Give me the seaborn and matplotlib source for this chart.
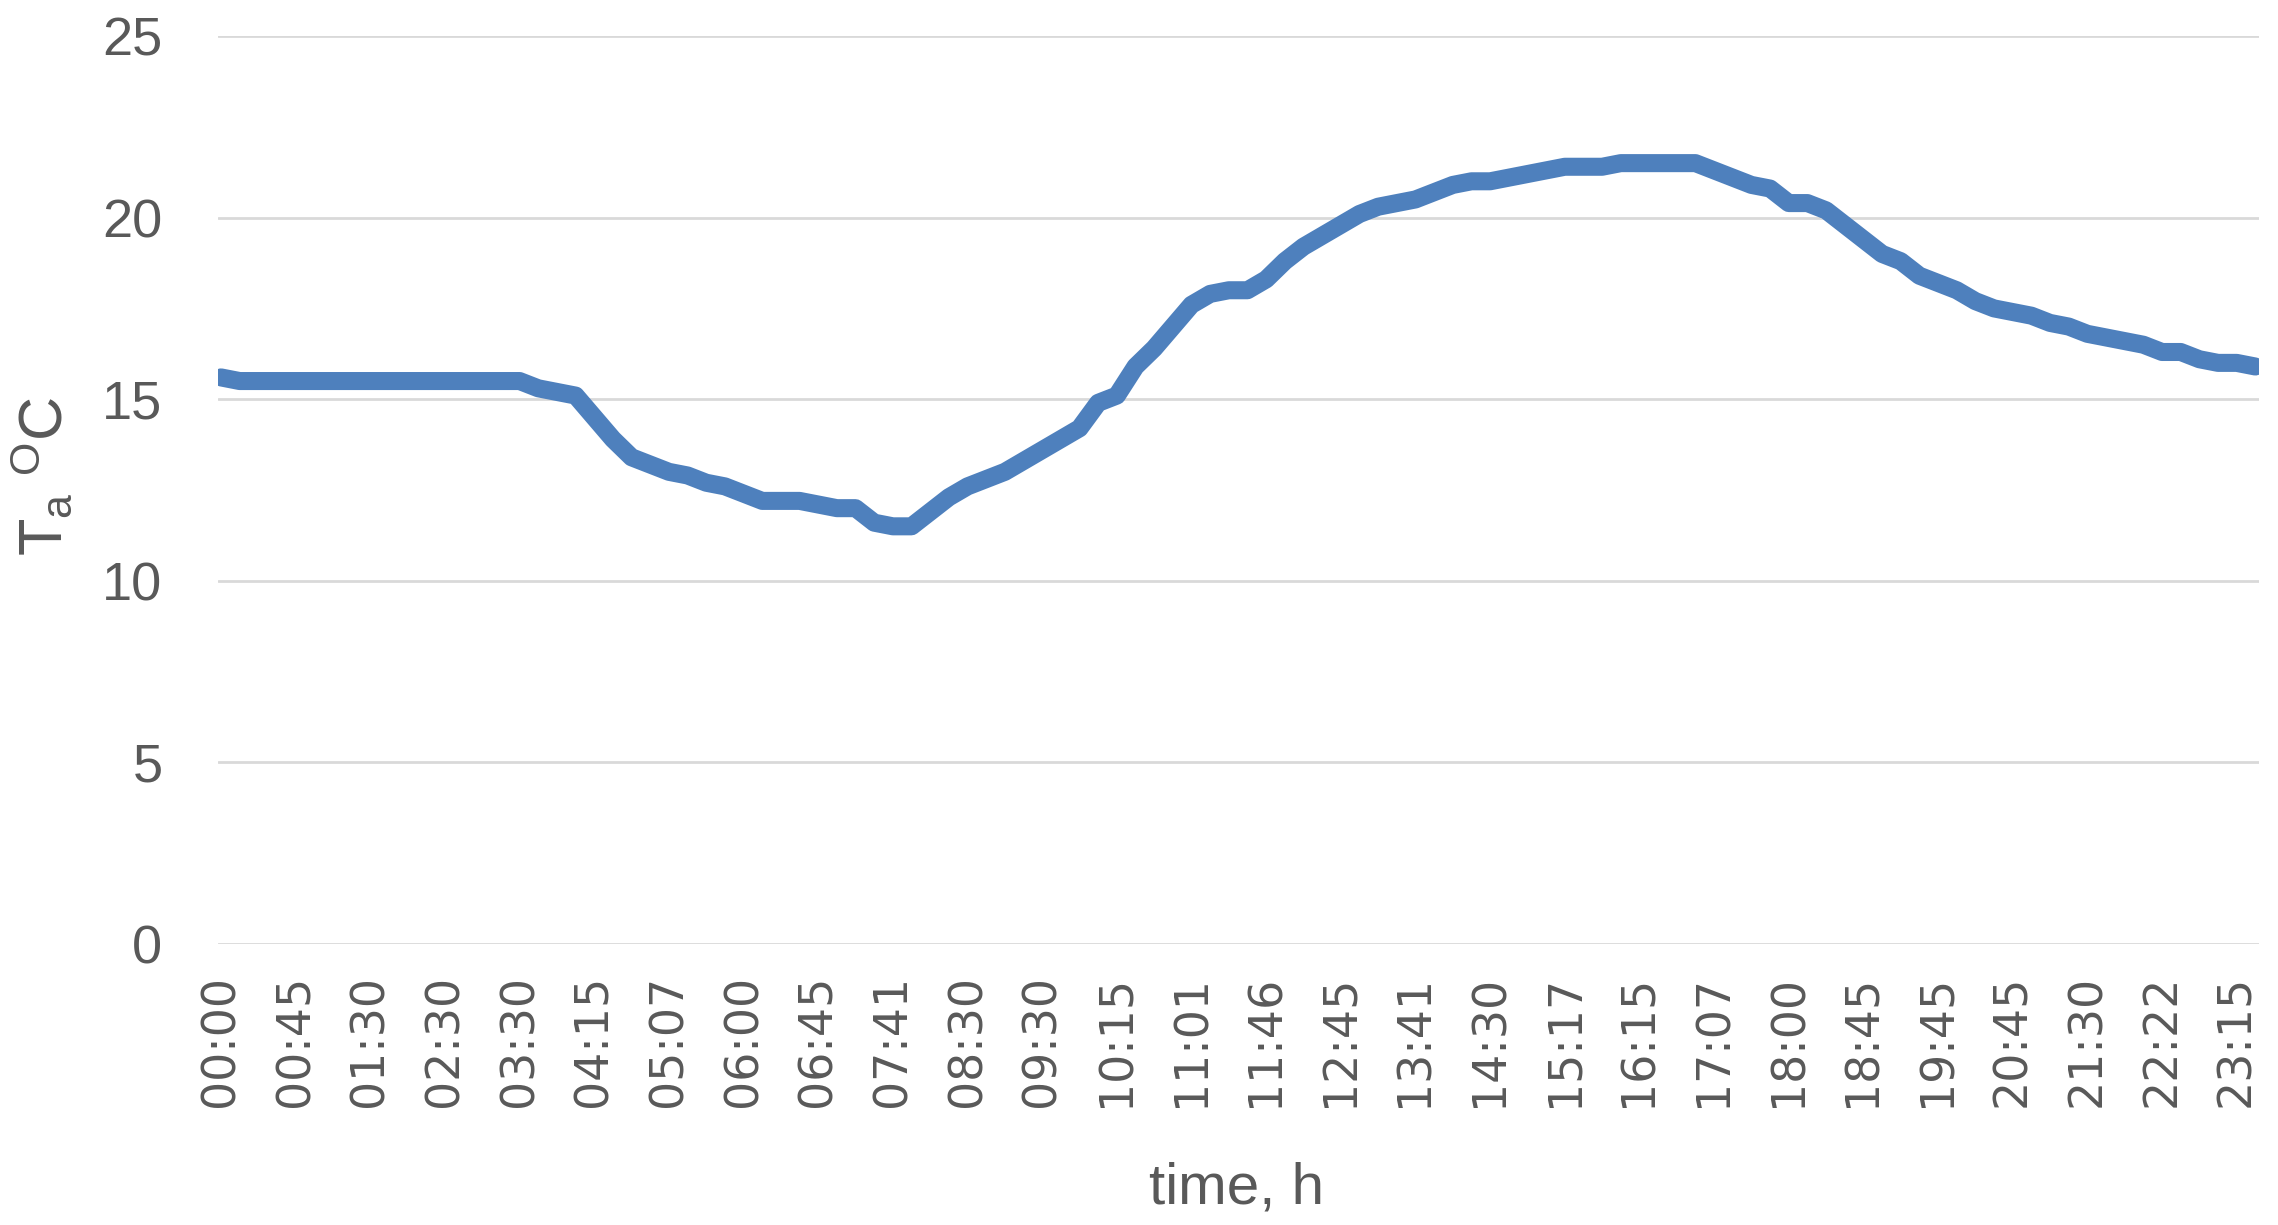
import matplotlib
matplotlib.use("Agg")
import matplotlib.pyplot as plt
import numpy as np
import pandas as pd
import seaborn as sns

# air temperature over the day (one value per sample)
temp_c = [15.6, 15.5, 15.5, 15.5, 15.5, 15.5, 15.5, 15.5, 15.5, 15.5,
          15.5, 15.5, 15.5, 15.5, 15.5, 15.5, 15.5, 15.3, 15.2, 15.1,
          14.5, 13.9, 13.4, 13.2, 13.0, 12.9, 12.7, 12.6, 12.4, 12.2,
          12.2, 12.2, 12.1, 12.0, 12.0, 11.6, 11.5, 11.5, 11.9, 12.3,
          12.6, 12.8, 13.0, 13.3, 13.6, 13.9, 14.2, 14.9, 15.1, 15.9,
          16.4, 17.0, 17.6, 17.9, 18.0, 18.0, 18.3, 18.8, 19.2, 19.5,
          19.8, 20.1, 20.3, 20.4, 20.5, 20.7, 20.9, 21.0, 21.0, 21.1,
          21.2, 21.3, 21.4, 21.4, 21.4, 21.5, 21.5, 21.5, 21.5, 21.5,
          21.3, 21.1, 20.9, 20.8, 20.4, 20.4, 20.2, 19.8, 19.4, 19.0,
          18.8, 18.4, 18.2, 18.0, 17.7, 17.5, 17.4, 17.3, 17.1, 17.0,
          16.8, 16.7, 16.6, 16.5, 16.3, 16.3, 16.1, 16.0, 16.0, 15.9]

# category labels shown on the x axis (every 4th sample)
time_labels = ["00:00", "00:45", "01:30", "02:30", "03:30", "04:15", "05:07",
               "06:00", "06:45", "07:41", "08:30", "09:30", "10:15", "11:01",
               "11:46", "12:45", "13:41", "14:30", "15:17", "16:15", "17:07",
               "18:00", "18:45", "19:45", "20:45", "21:30", "22:22", "23:15"]
label_step = 4

df = pd.DataFrame({"sample": range(len(temp_c)), "temp": temp_c})

sns.set_style("white")
plt.rcParams['font.family'] = ['Liberation Sans', 'DejaVu Sans']
plt.rcParams['mathtext.fontset'] = 'custom'
plt.rcParams['mathtext.rm'] = 'Liberation Sans'
plt.rcParams['mathtext.it'] = 'Liberation Sans'

fig = plt.figure(figsize=(22.78, 12.25), dpi=100)
ax = fig.add_axes([0.0957, 0.2294, 0.896, 0.7412])

sns.lineplot(data=df, x="sample", y="temp", ax=ax, color="#4E80BD",
             linewidth=13)

ax.set_ylim(0, 25)
ax.set_yticks([0, 5, 10, 15, 20, 25])
ax.set_xlim(-0.16, len(temp_c) - 0.8)
ax.set_xticks(range(0, len(temp_c), label_step))
ax.set_xticklabels(time_labels, rotation=90, family='DejaVu Sans', fontsize=33)
ax.tick_params(axis='y', labelsize=39, colors='#595959', length=0, pad=40)
ax.tick_params(axis='x', colors='#595959', length=0, pad=22)

ax.grid(axis='y', color='#D9D9D9', linewidth=2)
ax.set_axisbelow(True)
for s in ax.spines.values():
    s.set_visible(False)

ax.set_xlabel("time, h", fontsize=42, color='#595959')
ax.xaxis.set_label_coords(0.499, -0.24)
ax.set_ylabel(r"T$_{\mathrm{a}}$ $^{\mathrm{O}}$C", fontsize=44, color='#595959')
ax.yaxis.set_label_coords(-0.07, 0.515)

fig.savefig("out.png", dpi=100)
